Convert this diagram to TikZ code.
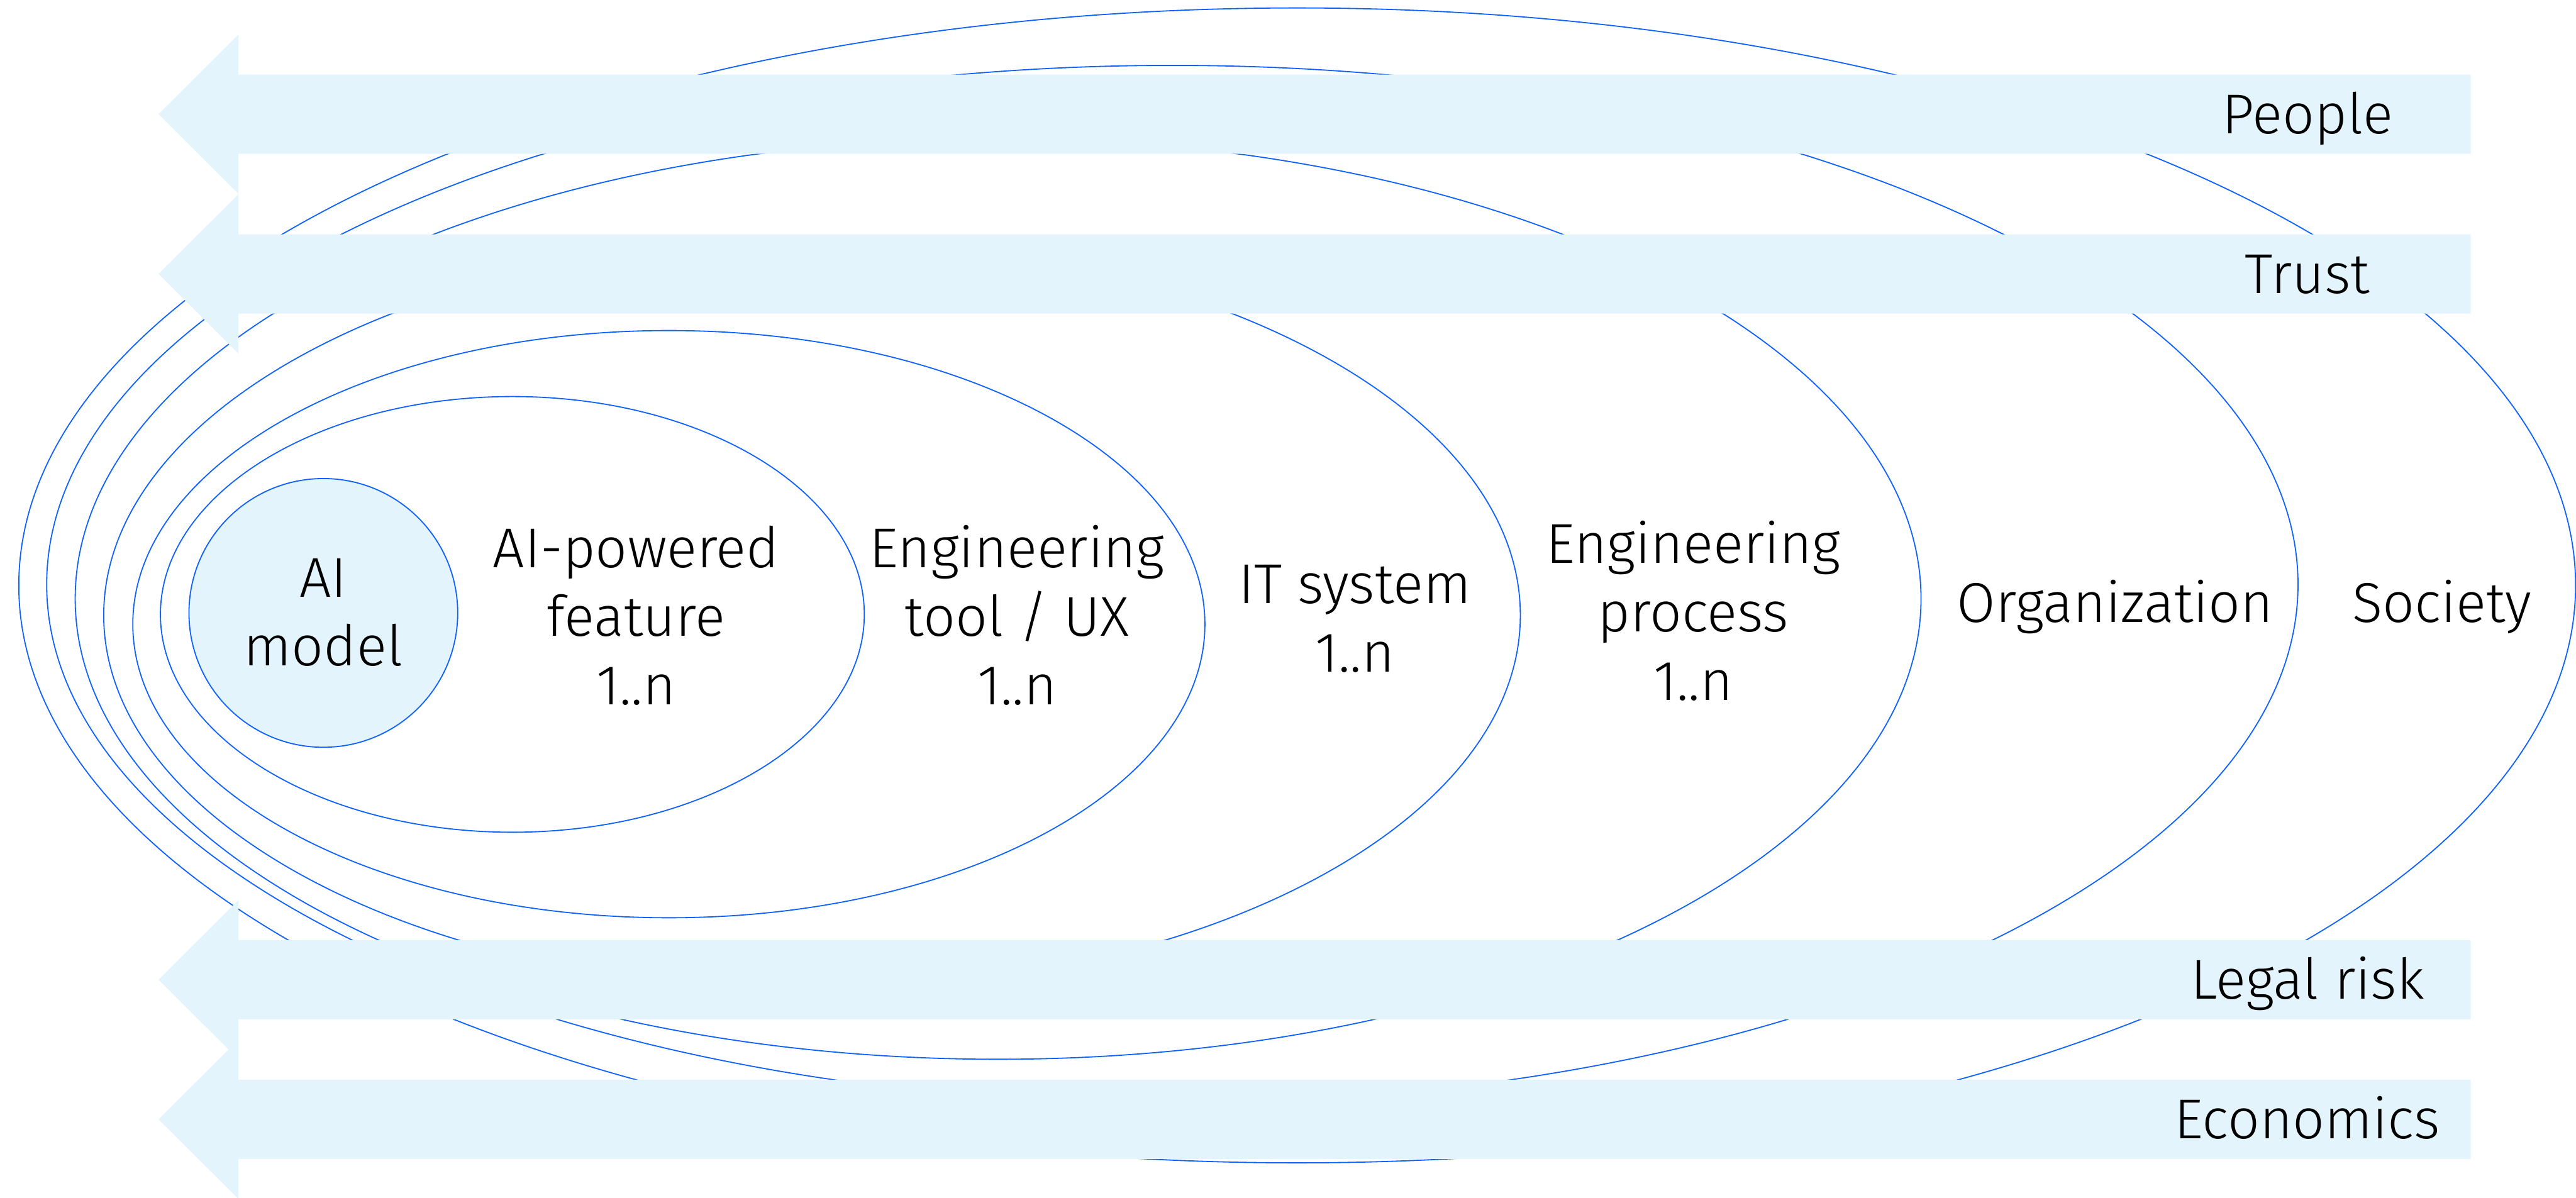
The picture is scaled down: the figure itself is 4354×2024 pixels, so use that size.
\documentclass[tikz,border=0pt]{standalone}
\usepackage{fontspec}
\setmainfont{Fira Sans}[UprightFont={* Light}]
\usetikzlibrary{shapes.geometric}
\definecolor{ringblue}{HTML}{0F62FE}
\definecolor{barblue}{HTML}{E3F4FC}
\tikzset{
  ring/.style={draw=ringblue, line width=0.55pt, ellipse, inner sep=0pt, outer sep=0pt},
  core/.style={draw=ringblue, line width=0.55pt, fill=barblue, circle, inner sep=0pt, outer sep=0pt},
  lbl/.style={font=\fontsize{27}{33}\selectfont, align=center, anchor=base, inner sep=0pt, text=black},
  leftarrow/.pic={\fill[barblue] (4176,-67) -- (403,-67) -- (403,-134.5) -- (268,0) -- (403,134.5) -- (403,67) -- (4176,67) -- cycle;}
}
\begin{document}
\begin{tikzpicture}[x=0.01cm, y=-0.01cm]
\useasboundingbox (0,0) rectangle (4354,2024);
% nested rings
\node[ring, minimum width=43.19cm, minimum height=19.51cm] (society) at (2192.5,989.5) {};
\node[ring, minimum width=38.03cm, minimum height=17.54cm] (organization) at (1981.5,988) {};
\node[ring, minimum width=31.18cm, minimum height=15.56cm] (process) at (1687,1012) {};
\node[ring, minimum width=23.93cm, minimum height=12.66cm] (itsystem) at (1372.5,1040) {};
\node[ring, minimum width=18.11cm, minimum height=9.92cm] (tool) at (1130.5,1055) {};
\node[ring, minimum width=11.89cm, minimum height=7.36cm] (feature) at (866,1038.5) {};
\node[core, minimum size=4.54cm] (model) at (546.5,1036) {};
% arrows
\pic (parrow) at (0,193) {leftarrow};
\pic (tarrow) at (0,463) {leftarrow};
\pic (larrow) at (0,1656) {leftarrow};
\pic (earrow) at (0,1892) {leftarrow};
% labels (base = baseline of the last line)
\node[lbl] (tmodel) at (546.5,1125) {AI\\model};
\node[lbl] (tfeature) at (1075,1191) {AI-powered\\feature\\1..n};
\node[lbl] (ttool) at (1719,1191) {Engineering\\tool / UX\\1..n};
\node[lbl] (tit) at (2290,1136) {IT system\\1..n};
\node[lbl] (tprocess) at (2862,1184) {Engineering\\process\\1..n};
\node[lbl] (torg) at (3575,1052) {Organization};
\node[lbl] (tsoc) at (4127,1052) {Society};
\node[lbl] (tpeople) at (3900,226) {People};
\node[lbl] (ttrust) at (3900,496) {Trust};
\node[lbl] (tlegal) at (3900,1689) {Legal risk};
\node[lbl] (tecon) at (3900,1924) {Economics};
\end{tikzpicture}
\end{document}
